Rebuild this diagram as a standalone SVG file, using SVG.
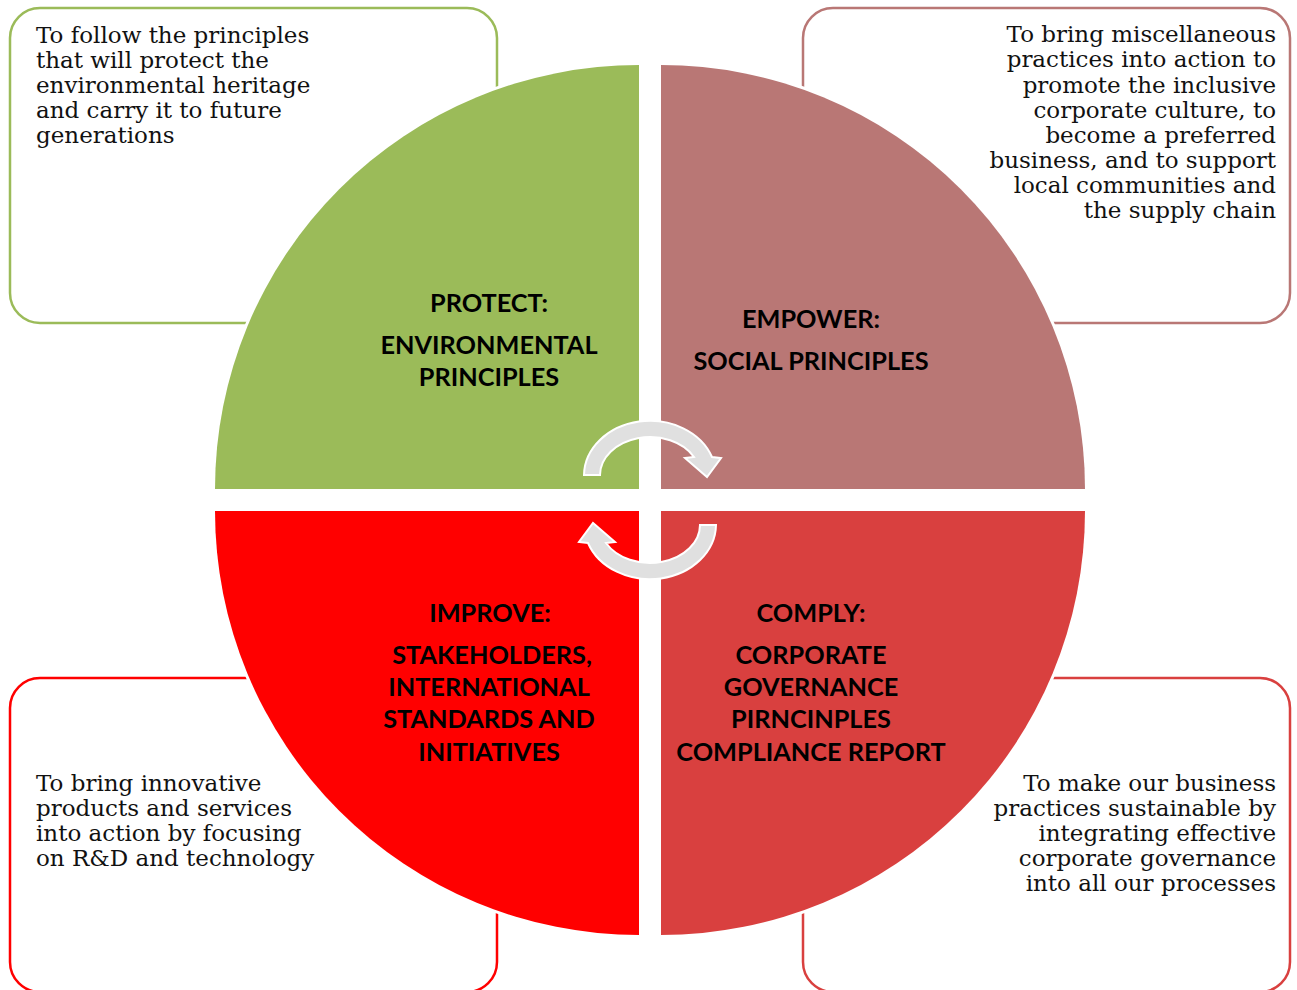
<svg xmlns="http://www.w3.org/2000/svg" width="1297" height="990" viewBox="0 0 1297 990">
<style>
.box{fill:#fff;stroke-width:2.5}
.desc{font-family:"DejaVu Serif","Liberation Serif",serif;font-size:23px;fill:#111}
.r{text-anchor:end}
.q{stroke:#fff;stroke-width:6;paint-order:stroke}
.lbl{font-family:Lato,"Liberation Sans",sans-serif;font-weight:bold;font-size:25.3px;fill:#000;text-anchor:middle}
.arr{fill:#e0e0e0;stroke:#fff;stroke-width:2;stroke-linejoin:miter}
</style>
<defs>
<path id="carrow" class="arr" d="M584,475 A66,55 0 0 1 712,457 L721,458 L707,477 L685,458 L694,457 A50,38 0 0 0 600,475 Z"/>
</defs>
<rect width="1297" height="990" fill="#fff"/>
<g id="box-protect"><rect class="box" x="10" y="8" width="487" height="315" rx="30" stroke="#9bbb59"/>
<text class="desc"><tspan x="36" y="43">To follow the principles</tspan><tspan x="36" y="68">that will protect the</tspan><tspan x="36" y="93">environmental heritage</tspan><tspan x="36" y="118">and carry it to future</tspan><tspan x="36" y="143">generations</tspan></text></g>
<g id="box-empower"><rect class="box" x="803" y="8" width="487" height="315" rx="30" stroke="#b97775"/>
<text class="desc r"><tspan x="1276" y="42">To bring miscellaneous</tspan><tspan x="1276" y="67">practices into action to</tspan><tspan x="1276" y="93">promote the inclusive</tspan><tspan x="1276" y="118">corporate culture, to</tspan><tspan x="1276" y="143">become a preferred</tspan><tspan x="1276" y="168">business, and to support</tspan><tspan x="1276" y="193">local communities and</tspan><tspan x="1276" y="218">the supply chain</tspan></text></g>
<g id="box-improve"><rect class="box" x="10" y="678" width="487" height="314" rx="30" stroke="#ff0000"/>
<text class="desc"><tspan x="36" y="791">To bring innovative</tspan><tspan x="36" y="816">products and services</tspan><tspan x="36" y="841">into action by focusing</tspan><tspan x="36" y="866">on R&amp;D and technology</tspan></text></g>
<g id="box-comply"><rect class="box" x="803" y="678" width="487" height="314" rx="30" stroke="#d9403f"/>
<text class="desc r"><tspan x="1276" y="791">To make our business</tspan><tspan x="1276" y="816">practices sustainable by</tspan><tspan x="1276" y="841">integrating effective</tspan><tspan x="1276" y="866">corporate governance</tspan><tspan x="1276" y="891">into all our processes</tspan></text></g>
<g id="protect"><path class="q" fill="#9bbb59" d="M639,489 L215,489 A424,424 0 0 1 639,65 Z"/>
<text class="lbl"><tspan x="489" y="312">PROTECT:</tspan><tspan x="489" y="354">ENVIRONMENTAL</tspan><tspan x="489" y="386">PRINCIPLES</tspan></text></g>
<g id="empower"><path class="q" fill="#b97775" d="M661,489 L661,65 A424,424 0 0 1 1085,489 Z"/>
<text class="lbl"><tspan x="811" y="328">EMPOWER:</tspan><tspan x="811" y="370">SOCIAL PRINCIPLES</tspan></text></g>
<g id="comply"><path class="q" fill="#d9403f" d="M661,511 L1085,511 A424,424 0 0 1 661,935 Z"/>
<text class="lbl"><tspan x="811" y="622">COMPLY:</tspan><tspan x="811" y="664">CORPORATE</tspan><tspan x="811" y="696">GOVERNANCE</tspan><tspan x="811" y="728">PIRNCINPLES</tspan><tspan x="811" y="761">COMPLIANCE REPORT</tspan></text></g>
<g id="improve"><path class="q" fill="#ff0000" d="M639,511 L639,935 A424,424 0 0 1 215,511 Z"/>
<text class="lbl"><tspan x="490" y="622">IMPROVE:</tspan><tspan x="492" y="664">STAKEHOLDERS,</tspan><tspan x="489" y="696">INTERNATIONAL</tspan><tspan x="489" y="728">STANDARDS AND</tspan><tspan x="489" y="761">INITIATIVES</tspan></text></g>
<g id="connectors">
<use href="#carrow"/>
<use href="#carrow" transform="rotate(180 650 500)"/>
</g>
</svg>
